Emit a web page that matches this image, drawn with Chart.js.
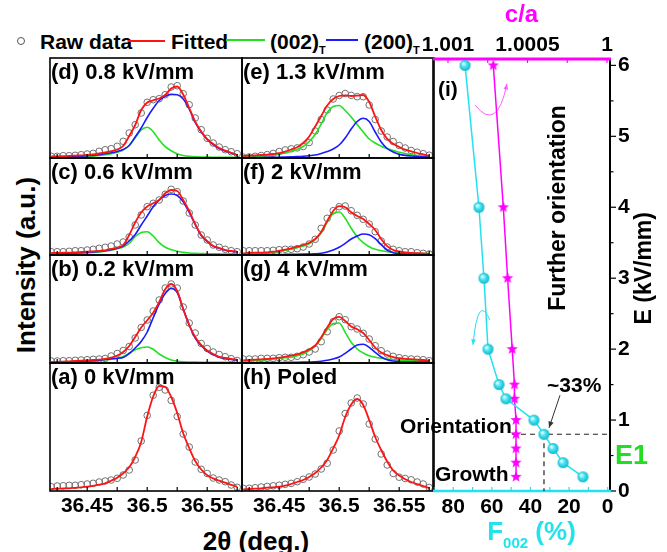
<!DOCTYPE html>
<html lang="en">
<head>
<meta charset="UTF-8">
<title>XRD peak fitting under poling field</title>
<script src="https://cdn.jsdelivr.net/npm/chart.js"></script>
<style>
  body { margin: 0; background: #fff; }
  #stage { position: relative; width: 667px; height: 552px; overflow: hidden; background: #fff;
           font-family: "Liberation Sans", Arial, Helvetica, sans-serif; }
  #stage canvas { position: absolute; }
  .txt { position: absolute; font-weight: bold; color: #000; white-space: nowrap; line-height: 1; }
  .lgline { position: absolute; height: 2px; }
</style>
</head>
<body>
<div id="stage">
  <!-- legend -->
  <div style="position:absolute;left:17px;top:37px;width:6px;height:6px;border:1.4px solid #555;border-radius:50%"></div>
  <div class="txt" style="left:40px;top:31px;font-size:21px">Raw data</div>
  <div class="lgline" style="left:128px;top:40px;width:37px;background:#ff1414"></div>
  <div class="txt" style="left:171px;top:31px;font-size:21px">Fitted</div>
  <div class="lgline" style="left:226px;top:39px;width:39px;background:#22e022"></div>
  <div class="txt" style="left:270px;top:31px;font-size:21px">(002)<span style="font-size:11px;position:relative;top:5px">T</span></div>
  <div class="lgline" style="left:326px;top:39px;width:32px;background:#1a1aff"></div>
  <div class="txt" style="left:364px;top:31px;font-size:21px">(200)<span style="font-size:11px;position:relative;top:5px">T</span></div>

  <div class="txt" style="left:26px;top:265px;font-size:26px;transform:translate(-50%,-50%) rotate(-90deg)">Intensity (a.u.)</div>
  <div class="txt" style="left:256px;top:528px;font-size:26px;transform:translateX(-50%)">2θ (deg.)</div>
</div>

<script>
// ---- data: XRD peaks, 2theta grid (deg.) ----
const twoTheta = [36.42, 36.425, 36.43, 36.435, 36.44, 36.445, 36.45, 36.455, 36.46, 36.465, 36.47,
  36.475, 36.48, 36.485, 36.49, 36.495, 36.5, 36.505, 36.51, 36.515, 36.52, 36.525, 36.53,
  36.535, 36.54, 36.545, 36.55, 36.555, 36.56, 36.565, 36.57, 36.575];
const thetaTicks = [36.425, 36.45, 36.475, 36.5, 36.525, 36.55, 36.575];
const thetaTickLabels = ['36.45', '36.5', '36.55'];

// (a) 0 kV/mm
const rawA = [4.3,5,5.3,5.7,5.7,6.3,7,7.7,9,10,11,12.7,16,21,31,50,75.6,95.7,103.7,101,90.6,74.5,57,44,29,21.7,17.5,13,11,9.3,6,3.7];
const fitA = [2,2.3,2.5,2.7,3.2,3.7,4.3,5.2,6.3,7.7,10.3,13.3,17.7,23.7,34,49,74.5,94.5,105,104,94,78,57.7,43,30,21.5,15.8,12.6,10.3,8.3,6.2,4.3];
// (b) 0.2 kV/mm
const rawB = [2,2,2.3,2.3,2.7,3,3.3,3.7,4,4.5,7,9.5,12.5,16.5,25,35.5,43,52,63,75,79,75,56,40,30,19.5,14.5,11,8.5,6.3,4.3,2.5];
const fitB = [0.9,1.2,1.4,1.7,2,2.3,2.7,3,3.4,4.2,5.3,7.5,11,17,26,35.5,42.7,50.3,61,73.7,79,72,54,38,26,18,12.5,9,6.2,5,4,3.3];
const g002B = [0.5,0.6,0.7,0.8,1,1.2,1.5,1.9,2.4,3,3.8,4.5,6.5,9.7,13.3,15.3,16,13.7,9,5.5,3,1.8,1.2,1,0.9,0.8,0.7,0.7,0.6,0.6,0.5,0.5];
const g200B = [0.7,0.8,1,1.2,1.4,1.7,2,2.4,2.9,3.5,4.2,4.8,5.5,9.5,15,21.5,31,45.3,59,69.5,74.5,70.5,54,38,25,17.5,12,8.5,5.8,4.5,3.5,2.8];
// (c) 0.6 kV/mm
const rawC = [3.3,3.3,3.3,3.7,4.3,4.3,5,5.7,6.7,7.7,9,11,13,18,30,40,48.3,51.7,55,60.7,65.7,63.3,54,42,30,20,15,10,7.7,5.7,4.3,3.3];
const fitC = [2,2,2.3,2.3,2.7,3,3.3,3.7,4,4.7,6,7.3,10,20,32.5,42.5,48.5,51.7,55,61.7,65,64,55,44,31,20,14,9,7,5,4,3.4];
const g002C = [1,1.1,1.2,1.4,1.6,1.8,2.1,2.5,3,3.8,4.8,6.3,8,11.5,18.5,22.5,23.3,19,12.3,7.7,5.3,3.8,2.6,2,1.7,1.5,1.3,1.2,1.1,1,1,0.9];
const g200C = [1.3,1.5,1.7,1.9,2.1,2.4,2.7,3.1,3.6,4.3,5.2,6.7,9,14,20.5,30,39,48.3,55,59.5,61,59.5,53.3,42.5,30.5,19.5,13.5,8.8,6.8,4.8,3.8,3.2];
// (d) 0.8 kV/mm
const rawD = [1.7,1.7,2.3,2.3,2.7,3.3,4,4.7,6.7,8.3,9.3,11.7,16.7,25,33.3,45,55.7,58.3,59.3,63.3,71,72.3,64.3,53.3,40,28.3,19.7,15,11,8.3,6.3,4.3];
const fitD = [1.5,1.7,1.9,2.1,2.4,2.7,3.1,3.7,4.5,5.5,6.8,8.5,12,22,33,48,55.5,57.7,59.5,63,69.5,71.5,63.5,50,36.3,26.5,19,14,10,7.5,5.2,3];
const g002D = [0.5,0.6,0.7,0.8,1,1.2,1.5,2,2.5,3.3,4.3,5.8,8,12.5,20.3,28,30.7,26.3,18,11.3,7.3,4.3,2.5,1.6,1.2,1,0.9,0.8,0.7,0.7,0.6,0.6];
const g200D = [0.7,0.9,1.1,1.3,1.6,1.9,2.3,2.8,3.4,4.2,5.2,6.6,8.5,12.5,21,30,40.5,49.7,57.5,61.8,63.6,63.2,59,49,35.5,26,18.5,13.5,9.5,7,5,3];
// (e) 1.3 kV/mm
const rawE = [0.8,1.1,1.7,2.5,3.4,4.6,6.5,8.1,9.2,10.1,11.5,15.5,27,38.5,48,59,62.5,64.5,62.6,61.3,61.3,53,38.5,27,21,16.5,12.5,10,7.5,5.8,4.3,2.8];
const fitE = [2,2.3,2.7,3,3.4,4,4.8,6.5,8.5,10.8,15,21.5,31.5,42,52.5,59,62,62.7,62,62.3,63,56,41.5,28,19.2,14.2,11,8.3,6.6,5,3.6,2.2];
const g002E = [0.7,1,1.3,1.7,2.1,2.7,3.7,5,6.8,8.5,11.5,16.5,23.5,34,45.5,51.5,52.5,47.5,41,33.5,26,19,15,11.8,9.5,7.5,5.7,4.5,3.2,2.5,1.9,1.4];
const g200E = [0.3,0.3,0.4,0.5,0.6,0.7,0.8,1,1.2,1.4,1.7,2.2,3,4.5,6.5,9,13,20,29,36.5,39.7,36.5,26,16,9.5,6,3.8,2.6,2,1.5,1.2,1];
// (f) 2 kV/mm
const rawF = [4.3,4.3,4.3,4.3,4.3,4.7,5.3,5.7,5.7,6.3,8,11,15.7,26.7,36.7,44.3,48.3,49,44.3,39.7,35.7,31,23.3,14,8,5.7,4.3,3.3,3.3,2.3,1.7,1];
const fitF = [1.7,2,2.3,2.3,2.7,3.3,4.3,5.3,6.7,8.3,10,12.3,16,23,34,44,48.8,47.7,42.8,39,36,31,25,16,8.8,5,3.5,2.5,2.1,1.8,1.5,1.2];
const g002F = [1,1.3,1.7,2,2.3,2.7,3.7,4.7,5.7,7.3,9,11.3,15.5,22,33,41.5,43,36.7,26.7,18.3,12.3,8.3,5.7,4.3,3.3,2.7,2.3,2,1.8,1.6,1.4,1.3];
const g200F = [0.3,0.3,0.3,0.4,0.4,0.5,0.5,0.6,0.7,0.8,0.9,1,1.2,1.7,3,5,7.7,11.7,16,19,21,20.3,16.3,10.3,5,2.3,1.3,0.9,0.7,0.6,0.5,0.5];
// (g) 4 kV/mm
const rawG = [4,4,4,4.7,4.7,4.7,5.3,5.7,5.7,6.7,8.3,11,14,21.3,31.3,41.3,46.3,43.3,36.3,34,29.7,24,17.3,12.3,9,6.7,5.3,4.3,4,3.7,3.3,2.3];
const fitG = [2.7,3,3.3,3.7,4,4.7,5.3,6.3,7.3,8.7,10.7,13.5,17.5,25.7,35.5,44,46.2,42,36.5,33.7,30,23,15.5,10.5,7.8,5.8,4.8,4.2,3.8,3.4,3,2.5];
const g002G = [2,2.3,2.7,3,3.3,4,4.7,5.3,5.7,7.3,9,12.3,17,24.5,33.5,39.5,40,30.7,20.7,14,10,7.3,5.7,4.7,4,3.5,3.1,2.8,2.5,2.3,2.1,2];
const g200G = [0.3,0.3,0.3,0.4,0.4,0.5,0.5,0.6,0.7,0.8,0.9,1,1.2,1.7,2.7,4,6,9.7,14,18,18.7,15.7,10.7,6,3.3,2,1.3,1,1,1,1,1];
// (h) poled
const rawH = [2.7,2.7,3.3,4,4.6,5.2,5.8,6.7,7.6,9.3,11.7,14,17,22,27.7,41,60,77.5,88,93,87,67,52,37,26,17.5,13.8,12.5,11.2,9,7,3.5];
const fitH = [1.7,2,2.3,2.7,3.3,3.7,4.3,5.3,7,9,11,14,18,23.5,31,42.7,55.5,74,86.5,92,86,71,54,41,29.5,20.5,15.5,11.8,9,6.8,4.8,2.9];

// ---- data: panel (i) ----
const fieldE = [0.2, 0.4, 0.6, 0.8, 1.0, 1.3, 1.5, 2, 3, 4, 6];            // kV/mm
const f002 = [12.8, 23.1, 28.3, 33.0, 38.2, 52.7, 56.3, 62, 64.1, 66.7, 73.9];  // %
const caRatio = [1.000572, 1.000572, 1.000572, 1.000572, 1.000572, 1.000582, 1.000582, 1.000596, 1.000625, 1.000652, 1.000715];
const fTicks = [0, 10, 20, 30, 40, 50, 60, 70, 80, 90];
const fTickLabels = ['80', '60', '40', '20', '0'];
const caTicks = [1, 1.00025, 1.0005, 1.00075, 1.001];
const caTickLabels = ['1.001', '1.0005', '1'];
const eTicks = [0, 0.5, 1, 1.5, 2, 2.5, 3, 3.5, 4, 4.5, 5, 5.5, 6];
const eTickLabels = ['0', '1', '2', '3', '4', '5', '6'];

const FONT = '"Liberation Sans", Arial, Helvetica, sans-serif';
const CYAN = '#22e2ee';
const MAGENTA = '#ff00ff';
const stage = document.getElementById('stage');

function addCanvas(left, top, w, h, z) {
  const c = document.createElement('canvas');
  c.width = w; c.height = h;
  c.style.left = left + 'px'; c.style.top = top + 'px'; c.style.zIndex = z;
  stage.appendChild(c);
  return c;
}
const pts = (xs, ys) => ys.map((y, i) => ({ x: xs[i], y }));
function labelFor(v, list) {
  const s = String(+Number(v).toFixed(5));
  return list.includes(s) ? s : '';
}

// frame, inward ticks and the panel caption
const framePlugin = {
  id: 'frame',
  afterDatasetsDraw(chart, args, opts) {
    const { ctx, chartArea: a } = chart;
    const x = chart.scales.x;
    ctx.save();
    ctx.strokeStyle = '#000';
    ctx.lineWidth = 1.2;
    thetaTicks.forEach(v => {
      const px = x.getPixelForValue(v);
      ctx.beginPath(); ctx.moveTo(px, a.bottom); ctx.lineTo(px, a.bottom - 4); ctx.stroke();
    });
    ctx.lineWidth = 1.6;
    ctx.strokeRect(a.left, a.top, a.right - a.left, a.bottom - a.top);
    ctx.fillStyle = '#000';
    ctx.font = 'bold 22px ' + FONT;
    ctx.textBaseline = 'alphabetic';
    ctx.fillText(opts.label, a.left + 1, a.top + 21);
    ctx.restore();
  }
};

function panel(left, top, h, label, raw, fit, g002, g200, withAxis) {
  const cv = addCanvas(left - 1, top - 1, 194, h + (withAxis ? 31 : 2), 1);
  const datasets = [{
    data: pts(twoTheta, raw), showLine: false, pointRadius: 3.3, pointBorderWidth: 1,
    pointBorderColor: '#707070', pointBackgroundColor: 'rgba(255,255,255,0)', order: 4
  }];
  if (g002) datasets.push({ data: pts(twoTheta, g002), showLine: true, borderColor: '#22e022', borderWidth: 1.6,
    pointRadius: 0, cubicInterpolationMode: 'monotone', order: 3 });
  if (g200) datasets.push({ data: pts(twoTheta, g200), showLine: true, borderColor: '#1a1aff', borderWidth: 1.6,
    pointRadius: 0, cubicInterpolationMode: 'monotone', order: 2 });
  datasets.push({ data: pts(twoTheta, fit), showLine: true, borderColor: '#ff1414', borderWidth: 1.8,
    pointRadius: 0, cubicInterpolationMode: 'monotone', order: 1 });

  return new Chart(cv, {
    type: 'scatter',
    data: { datasets },
    plugins: [framePlugin],
    options: {
      responsive: false, animation: false, events: [],
      layout: { autoPadding: false, padding: { left: 1, right: 1, top: 1, bottom: withAxis ? 0 : 1 } },
      plugins: { legend: { display: false }, tooltip: { enabled: false }, frame: { label } },
      scales: {
        x: {
          type: 'linear', min: 36.419, max: 36.579, display: withAxis,
          afterBuildTicks: s => { s.ticks = thetaTicks.map(v => ({ value: v })); },
          afterFit: s => { if (withAxis) s.height = 30; },
          grid: { display: false, drawTicks: false }, border: { display: false },
          ticks: { autoSkip: false, maxRotation: 0, padding: 3, color: '#000',
                   font: { family: FONT, size: 21, weight: 'bold' },
                   callback: v => labelFor(v, thetaTickLabels) }
        },
        y: { min: 0, max: h, display: false }
      }
    }
  });
}

panel(50, 58, 100, '(d) 0.8 kV/mm', rawD, fitD, g002D, g200D, false);
panel(50, 158, 97, '(c) 0.6 kV/mm', rawC, fitC, g002C, g200C, false);
panel(50, 255, 108, '(b) 0.2 kV/mm', rawB, fitB, g002B, g200B, false);
panel(50, 363, 128, '(a) 0 kV/mm', rawA, fitA, null, null, true);
panel(242, 58, 100, '(e) 1.3 kV/mm', rawE, fitE, g002E, g200E, false);
panel(242, 158, 97, '(f) 2 kV/mm', rawF, fitF, g002F, g200F, false);
panel(242, 255, 108, '(g) 4 kV/mm', rawG, fitG, g002G, g200G, false);
panel(242, 363, 128, '(h) Poled', rawH, fitH, null, null, true);

// ---- panel (i) ----
function sphere(r) {
  const c = document.createElement('canvas');
  c.width = c.height = 2 * r + 2;
  const g = c.getContext('2d');
  const grad = g.createRadialGradient(r + 1 - r * 0.35, r + 1 - r * 0.35, r * 0.1, r + 1, r + 1, r);
  grad.addColorStop(0, '#e0ffff'); grad.addColorStop(0.45, '#44e4f0'); grad.addColorStop(1, '#12b6cc');
  g.fillStyle = grad;
  g.beginPath(); g.arc(r + 1, r + 1, r, 0, Math.PI * 2); g.fill();
  return c;
}
function star(R) {
  const c = document.createElement('canvas');
  c.width = c.height = 2 * R + 2;
  const g = c.getContext('2d');
  g.fillStyle = MAGENTA;
  g.beginPath();
  for (let k = 0; k < 10; k++) {
    const rr = k % 2 ? R * 0.42 : R;
    const ang = -Math.PI / 2 + k * Math.PI / 5;
    g.lineTo(R + 1 + rr * Math.cos(ang), R + 1 + rr * Math.sin(ang));
  }
  g.closePath(); g.fill();
  return c;
}

function arrowHead(ctx, x0, y0, x1, y1, size) {
  const ang = Math.atan2(y1 - y0, x1 - x0);
  ctx.beginPath();
  ctx.moveTo(x1, y1);
  ctx.lineTo(x1 - size * Math.cos(ang - 0.4), y1 - size * Math.sin(ang - 0.4));
  ctx.lineTo(x1 - size * Math.cos(ang + 0.4), y1 - size * Math.sin(ang + 0.4));
  ctx.closePath(); ctx.fill();
}

const panelIPlugin = {
  id: 'panelI',
  beforeDatasetsDraw(chart) {
    const { ctx, chartArea: a } = chart;
    const { xF, xCa, yE } = chart.scales;
    ctx.save();
    // ticks
    ctx.lineWidth = 1.2;
    ctx.strokeStyle = '#000';
    eTicks.forEach(v => {
      const py = yE.getPixelForValue(v);
      const len = Number.isInteger(v) ? 6 : 3.5;
      ctx.beginPath(); ctx.moveTo(a.right, py); ctx.lineTo(a.right + len, py); ctx.stroke();
    });
    ctx.strokeStyle = CYAN;
    fTicks.forEach(v => {
      const px = xF.getPixelForValue(v);
      ctx.beginPath(); ctx.moveTo(px, a.bottom); ctx.lineTo(px, a.bottom - 4); ctx.stroke();
    });
    ctx.strokeStyle = MAGENTA;
    caTicks.forEach(v => {
      const px = xCa.getPixelForValue(v);
      ctx.beginPath(); ctx.moveTo(px, a.top); ctx.lineTo(px, a.top + 4); ctx.stroke();
    });
    // frame
    ctx.strokeStyle = '#000'; ctx.lineWidth = 1.6;
    ctx.beginPath(); ctx.moveTo(a.left, a.top); ctx.lineTo(a.left, a.bottom); ctx.stroke();
    ctx.lineWidth = 2;
    ctx.beginPath(); ctx.moveTo(a.right, a.top); ctx.lineTo(a.right, a.bottom); ctx.stroke();
    ctx.strokeStyle = MAGENTA; ctx.lineWidth = 3;
    ctx.beginPath(); ctx.moveTo(a.left, a.top); ctx.lineTo(a.right + 1, a.top); ctx.stroke();
    ctx.strokeStyle = CYAN; ctx.lineWidth = 2.5;
    ctx.beginPath(); ctx.moveTo(a.left, a.bottom); ctx.lineTo(a.right + 1, a.bottom); ctx.stroke();

    // text labels in the plot
    ctx.fillStyle = '#000';
    ctx.font = 'bold 21px ' + FONT;
    ctx.textBaseline = 'alphabetic';
    ctx.textAlign = 'right';
    const orX = xF.getPixelForValue(49.6);
    const e1y = yE.getPixelForValue(0.8);
    ctx.fillText('Orientation', orX, e1y - 1);
    ctx.textAlign = 'left';
    ctx.fillText('Growth', a.left + 2, yE.getPixelForValue(0.14));
    ctx.fillText('~33%', xF.getPixelForValue(31.4), yE.getPixelForValue(1.4));
    ctx.fillText('(i)', a.left + 5, yE.getPixelForValue(5.57));

    // dashed guide lines to E1
    ctx.strokeStyle = '#222'; ctx.lineWidth = 1.2; ctx.setLineDash([5, 4]);
    const px33 = xF.getPixelForValue(33.0);
    ctx.beginPath(); ctx.moveTo(orX, e1y); ctx.lineTo(a.right, e1y); ctx.stroke();
    ctx.beginPath(); ctx.moveTo(px33, e1y); ctx.lineTo(px33, a.bottom); ctx.stroke();
    ctx.setLineDash([]);

    // arrow from ~33% to the point
    ctx.strokeStyle = '#333'; ctx.fillStyle = '#333'; ctx.lineWidth = 1;
    const ax0 = xF.getPixelForValue(24.7), ay0 = yE.getPixelForValue(1.35);
    const ax1 = xF.getPixelForValue(30.4), ay1 = yE.getPixelForValue(0.89);
    ctx.beginPath(); ctx.moveTo(ax0, ay0); ctx.lineTo(ax1, ay1); ctx.stroke();
    arrowHead(ctx, ax0, ay0, ax1, ay1, 7);

    // curved arrows
    const curve = (col, p0, p1, p2) => {
      ctx.strokeStyle = col; ctx.fillStyle = col; ctx.lineWidth = 1;
      const P = p => [xF.getPixelForValue(p[0]), yE.getPixelForValue(p[1])];
      const [x0, y0] = P(p0), [x1, y1] = P(p1), [x2, y2] = P(p2);
      ctx.beginPath(); ctx.moveTo(x0, y0); ctx.quadraticCurveTo(x1, y1, x2, y2); ctx.stroke();
      arrowHead(ctx, x1, y1, x2, y2, 6);
    };
    curve('#ff5cff', [68.7, 5.44], [57.3, 5.05], [52.2, 5.74]);
    curve(CYAN, [61, 2.41], [67.2, 2.8], [69.8, 2.06]);
    ctx.restore();
  },
  afterDatasetsDraw(chart) {
    const { ctx, chartArea: a } = chart;
    const { xF, yE } = chart.scales;
    ctx.save();
    ctx.fillStyle = '#000';
    ctx.font = 'bold 23px ' + FONT;
    ctx.textAlign = 'center'; ctx.textBaseline = 'middle';
    const rot = (t, x, y) => { ctx.save(); ctx.translate(x, y); ctx.rotate(-Math.PI / 2); ctx.fillText(t, 0, 0); ctx.restore(); };
    rot('Further orientation', xF.getPixelForValue(25.2), yE.getPixelForValue(3.99));
    rot('E (kV/mm)', a.right + 35, yE.getPixelForValue(3.14));

    ctx.fillStyle = '#22dd22';
    ctx.font = 'bold 27px ' + FONT;
    ctx.textAlign = 'left';
    ctx.fillText('E1', a.right + 5, yE.getPixelForValue(0.48));

    // F002 (%) axis title with subscript
    ctx.fillStyle = CYAN;
    ctx.textBaseline = 'alphabetic';
    const big = 'bold 26px ' + FONT, small = 'bold 15px ' + FONT;
    ctx.font = big; const wF = ctx.measureText('F').width, wP = ctx.measureText(' (%)').width;
    ctx.font = small; const wS = ctx.measureText('002').width;
    let x = (a.left + a.right) / 2 + 10 - (wF + wS + wP) / 2;
    const base = a.bottom + 49;
    ctx.font = big; ctx.fillText('F', x, base); x += wF;
    ctx.font = small; ctx.fillText('002', x, base + 8); x += wS;
    ctx.font = big; ctx.fillText(' (%)', x, base);
    ctx.restore();
  }
};

const rightCanvas = addCanvas(340, 0, 327, 552, 2);
new Chart(rightCanvas, {
  type: 'scatter',
  data: {
    datasets: [
      { label: 'F002', data: pts(f002, fieldE), xAxisID: 'xF', yAxisID: 'yE', showLine: true,
        borderColor: CYAN, borderWidth: 1.5, pointStyle: sphere(5.5), pointRadius: 6, clip: false },
      { label: 'c/a', data: pts(caRatio, fieldE), xAxisID: 'xCa', yAxisID: 'yE', showLine: true,
        borderColor: MAGENTA, borderWidth: 1.5, pointStyle: star(6), pointRadius: 6, clip: false }
    ]
  },
  plugins: [panelIPlugin],
  options: {
    responsive: false, animation: false, events: [],
    layout: { autoPadding: false, padding: { left: 93, right: 0, top: 0, bottom: 0 } },
    plugins: { legend: { display: false }, tooltip: { enabled: false } },
    scales: {
      xF: {
        axis: 'x', type: 'linear', position: 'bottom', reverse: true, min: -1.2, max: 90.5,
        afterBuildTicks: s => { s.ticks = fTicks.map(v => ({ value: v })); },
        afterFit: s => { s.height = 61; },
        grid: { display: false, drawTicks: false }, border: { display: false },
        ticks: { autoSkip: false, maxRotation: 0, padding: 4, color: '#000',
                 font: { family: FONT, size: 21, weight: 'bold' }, callback: v => labelFor(v, fTickLabels) }
      },
      xCa: {
        axis: 'x', type: 'linear', position: 'top', reverse: true, min: 0.999981, max: 1.0010943,
        afterBuildTicks: s => { s.ticks = caTicks.map(v => ({ value: v })); },
        afterFit: s => { s.height = 59; },
        grid: { display: false, drawTicks: false }, border: { display: false },
        title: { display: true, text: 'c/a', color: MAGENTA, padding: { top: 1, bottom: 0 },
                 font: { family: FONT, size: 24, weight: 'bold' } },
        ticks: { autoSkip: false, maxRotation: 0, padding: 1, color: '#000',
                 font: { family: FONT, size: 21, weight: 'bold' }, callback: v => labelFor(v, caTickLabels) }
      },
      yE: {
        axis: 'y', type: 'linear', position: 'right', min: 0, max: 6.09,
        afterBuildTicks: s => { s.ticks = eTicks.map(v => ({ value: v })); },
        afterFit: s => { s.width = 57; },
        grid: { display: false, drawTicks: false }, border: { display: false },
        ticks: { autoSkip: false, padding: 8, color: '#000',
                 font: { family: FONT, size: 21, weight: 'bold' }, callback: v => labelFor(v, eTickLabels) }
      }
    }
  }
});
</script>
</body>
</html>
